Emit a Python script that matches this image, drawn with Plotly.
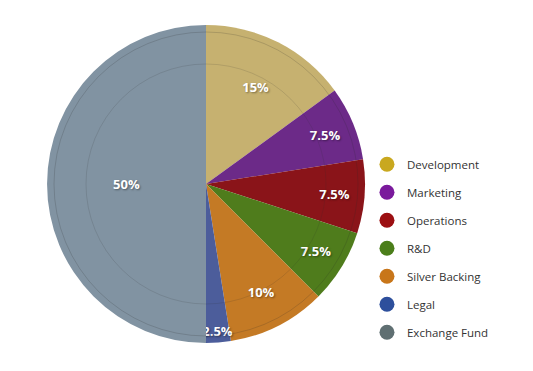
import plotly.graph_objects as go

categories = ["Development", "Marketing", "Operations", "R&D", "Silver Backing", "Legal", "Exchange Fund"]
values = [15, 7.5, 7.5, 7.5, 10, 2.5, 50]
slice_colors = ["#c6b170", "#6c2a88", "#8a1419", "#4f7c1c", "#c47a25", "#4c5d9b", "#8193a2"]
legend_colors = ["#c9a81f", "#7a1a9c", "#9c0f12", "#4b7e1a", "#c8761a", "#2d4f9c", "#5f6f72"]

W, H = 533, 371
cx, cy, R = 198, 176, 159  # pie centre/radius in figure pixels (from top-left)

fig = go.Figure()
fig.add_trace(go.Pie(
    labels=categories, values=values, sort=False, direction="clockwise", rotation=0,
    marker=dict(colors=slice_colors, line=dict(width=0)),
    textinfo="percent", textposition="inside", insidetextorientation="horizontal",
    textfont=dict(color="white", size=13, family="Open Sans", weight="bold",
                  shadow="1px 1px 2px rgba(0,0,0,0.4)"),
    showlegend=False, hoverinfo="label+percent",
    domain=dict(x=[(cx - R) / W, (cx + R) / W], y=[(H - cy - R) / H, (H - cy + R) / H]),
))
for name, col in zip(categories, legend_colors):
    fig.add_trace(go.Scatter(x=[None], y=[None], mode="markers", name=name, legendgroup=name,
                             marker=dict(color=col, size=15, symbol="circle")))

shapes = []
for r, a in [(152, 0.18), (120, 0.14)]:
    shapes.append(dict(type="circle", xref="paper", yref="paper",
                       x0=(cx - r) / W, x1=(cx + r) / W,
                       y0=(H - cy - r) / H, y1=(H - cy + r) / H,
                       line=dict(color=f"rgba(40,40,40,{a})", width=1), layer="above"))

fig.update_layout(
    width=W, height=H, margin=dict(l=0, r=0, t=0, b=0),
    paper_bgcolor="white", plot_bgcolor="white",
    xaxis=dict(visible=False), yaxis=dict(visible=False),
    legend=dict(x=0.6735, y=0.618, xanchor="left", yanchor="top", tracegroupgap=9,
                font=dict(family="Open Sans", size=11.5, color="#333333"), bgcolor="rgba(0,0,0,0)"),
    uniformtext=dict(minsize=12, mode="show"),
    shapes=shapes,
    showlegend=True,
)
fig.write_html("out.html")
